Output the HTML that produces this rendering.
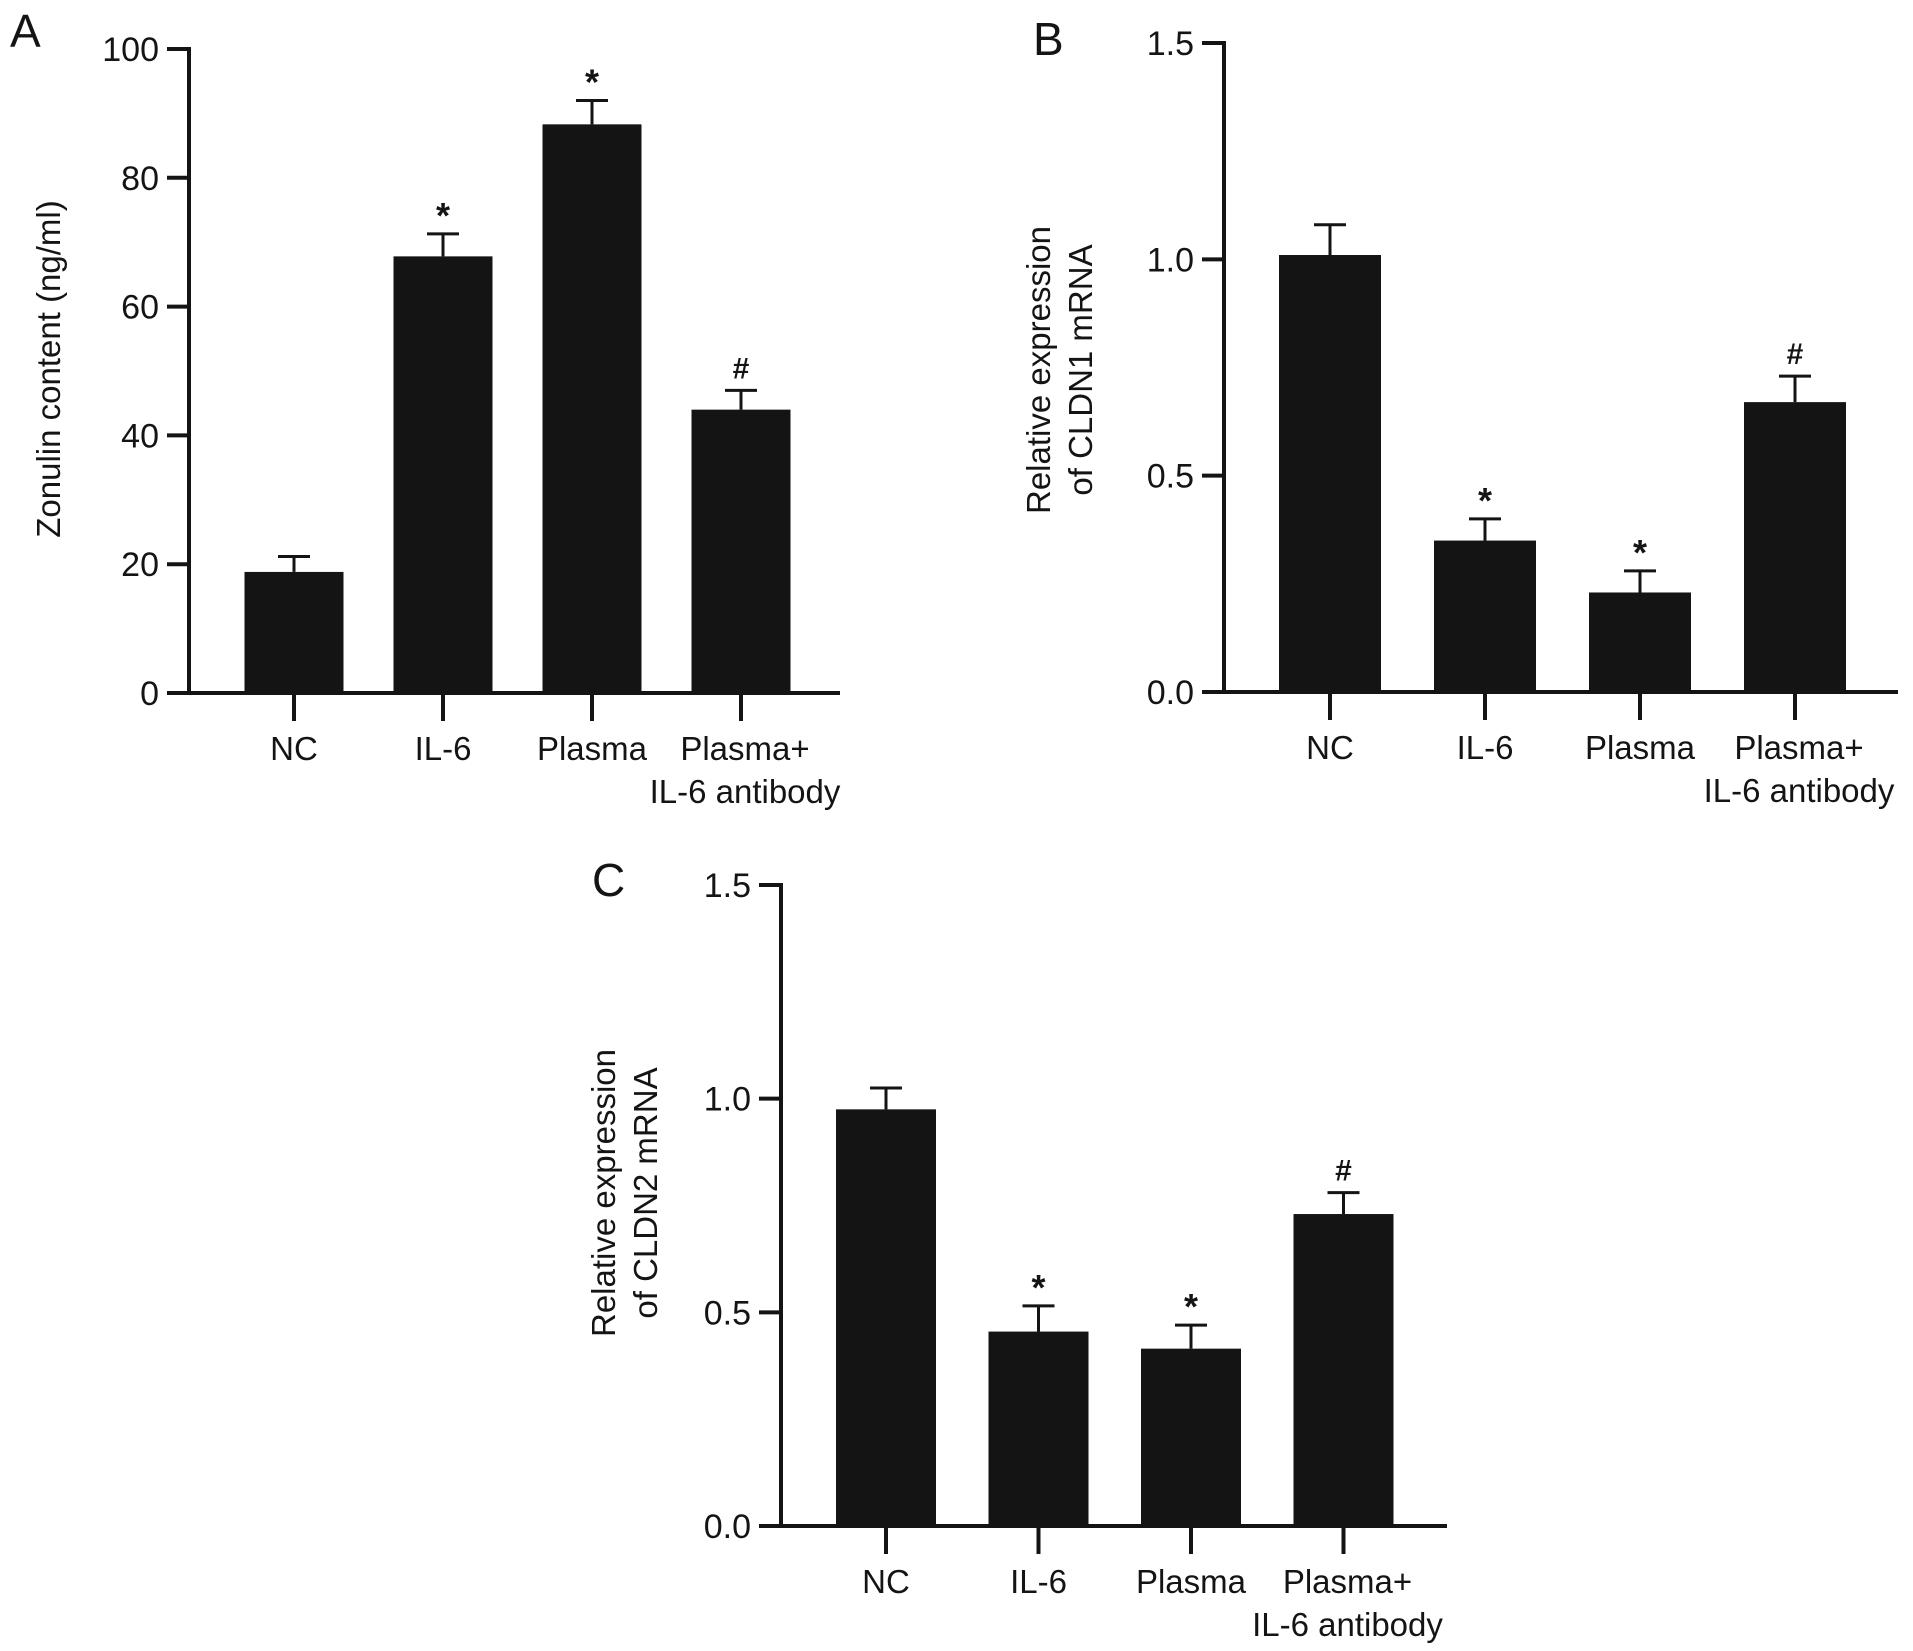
<!DOCTYPE html>
<html><head><meta charset="utf-8"><style>
html,body{margin:0;padding:0;background:#fff;}
svg{display:block;font-family:"Liberation Sans",Arial,sans-serif;}
</style></head><body>
<svg id="fig" width="1913" height="1651" viewBox="0 0 1913 1651" xmlns="http://www.w3.org/2000/svg"></svg>
<script>
const categories = ["NC","IL-6","Plasma","Plasma+|IL-6 antibody"];
const zonulinValues = [18.8, 67.8, 88.3, 44.0];
const zonulinErrors = [2.4, 3.5, 3.7, 3.0];
const zonulinMarks = ["", "*", "*", "#"];
const zonulinTicks = [0,20,40,60,80,100];
const cldn1Values = [1.01, 0.35, 0.23, 0.67];
const cldn1Errors = [0.07, 0.05, 0.05, 0.06];
const cldn1Marks = ["", "*", "*", "#"];
const cldn2Values = [0.975, 0.455, 0.415, 0.73];
const cldn2Errors = [0.05, 0.06, 0.055, 0.05];
const cldn2Marks = ["", "*", "*", "#"];
const relTicks = [0.0, 0.5, 1.0, 1.5];

const NS = "http://www.w3.org/2000/svg";
const svg = document.getElementById('fig');
function mk(tag, attrs, parent){ const e=document.createElementNS(NS,tag); for(const k in attrs) e.setAttribute(k,attrs[k]); (parent||svg).appendChild(e); return e; }

function drawPanel(p){
  const g = mk('g',{});
  
  
  const y = v => p.y0 - (v - p.ymin)/(p.ymax - p.ymin)*(p.y0 - p.y1);
  const x = i => p.firstC + i*p.step;
  p.values.forEach((v,i)=>{
    const top = y(v);
    const r = mk('rect',{x:x(i)-p.bw/2, y:top, width:p.bw, height:p.y0-top, fill:'#141414'}, g);
    
    
    const e = y(v + p.errors[i]);
    const eb = mk('path',{d:`M${x(i)} ${top} V${e} M${x(i)-16} ${e} H${x(i)+16}`, stroke:'#141414','stroke-width':3, fill:'none'}, g);
    
    
    if(p.marks[i]){
      const t = mk('text',{x:x(i), y:p.marks[i]==='*'?e-6:e-12, 'text-anchor':'middle','font-size':p.marks[i]==='*'?36:30,'font-weight':'bold', fill:'#141414'}, g);
      t.textContent = p.marks[i];
      
      
    }
    mk('line',{x1:x(i),x2:x(i),y1:p.y0,y2:p.y0+28,stroke:'#141414','stroke-width':4}, g);
    const parts = categories[i].split('|');
    parts.forEach((s,j)=>{
      const dx = parts.length>1 ? 4 : 0;
      const t = mk('text',{x:x(i)+dx, y:p.y0+67+j*43,'text-anchor':'middle','font-size':33,fill:'#141414'}, g);
      t.textContent = s;
      
      
    });
  });
  mk('line',{x1:p.ax,x2:p.ax,y1:p.y1-2,y2:p.y0+2,stroke:'#141414','stroke-width':4}, g);
  mk('line',{x1:p.ax-2,x2:p.xend,y1:p.y0,y2:p.y0,stroke:'#141414','stroke-width':4}, g);
  p.ticks.forEach(tv=>{
    const ty = y(tv);
    mk('line',{x1:p.ax-22,x2:p.ax,y1:ty,y2:ty,stroke:'#141414','stroke-width':4}, g);
    const t = mk('text',{x:p.ax-30,y:ty+12,'text-anchor':'end','font-size':34,fill:'#141414'}, g);
    t.textContent = p.fmt(tv);
    
    
  });
  p.title.forEach((s,j)=>{
    const tx = p.titleX + j*42;
    const t = mk('text',{x:tx,y:p.titleY,'text-anchor':'middle','font-size':33,fill:'#141414',transform:`rotate(-90 ${tx} ${p.titleY})`}, g);
    t.textContent = s;
    
    
  });
  const L = mk('text',{x:p.labX,y:p.labY,'font-size':46,fill:'#141414'}, g);
  L.textContent = p.letter;
  
  
}

drawPanel({id:'panel-a', values:zonulinValues, errors:zonulinErrors, marks:zonulinMarks, ticks:zonulinTicks,
  fmt:v=>String(v), ymin:0, ymax:100, y0:693, y1:49, ax:189, xend:840, firstC:294, step:149, bw:99,
  title:['Zonulin content (ng/ml)'], titleX:60, titleY:369, letter:'A', labX:10, labY:47});
drawPanel({id:'panel-b', values:cldn1Values, errors:cldn1Errors, marks:cldn1Marks, ticks:relTicks,
  fmt:v=>v.toFixed(1), ymin:0, ymax:1.5, y0:692, y1:43, ax:1224, xend:1898, firstC:1330, step:155, bw:102,
  title:['Relative expression','of CLDN1 mRNA'], titleX:1050, titleY:370, letter:'B', labX:1033, labY:55});
drawPanel({id:'panel-c', values:cldn2Values, errors:cldn2Errors, marks:cldn2Marks, ticks:relTicks,
  fmt:v=>v.toFixed(1), ymin:0, ymax:1.5, y0:1526, y1:885, ax:781, xend:1447, firstC:886, step:152.5, bw:100,
  title:['Relative expression','of CLDN2 mRNA'], titleX:615, titleY:1193, letter:'C', labX:592, labY:896});
</script>
</body></html>
